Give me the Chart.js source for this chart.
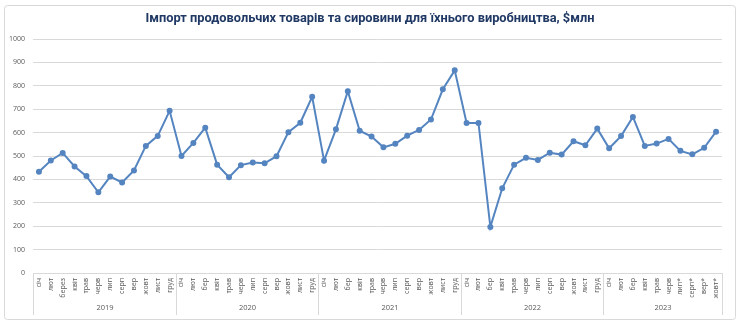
<!DOCTYPE html>
<html lang="uk">
<head>
<meta charset="utf-8">
<title>Імпорт продовольчих товарів</title>
<script src="https://cdn.jsdelivr.net/npm/chart.js@4.4.1/dist/chart.umd.min.js"></script>
<style>
  html, body { margin: 0; padding: 0; background: #fff; }
  #wrap { position: relative; width: 740px; height: 327px; }
</style>
</head>
<body>
<div id="wrap"><canvas id="chart"></canvas></div>
<script>
const chartTitle = 'Імпорт продовольчих товарів та сировини для їхнього виробництва, $млн';

const years = ['2019', '2020', '2021', '2022', '2023'];

const months2019 = ['січ', 'лют', 'берез', 'квіт', 'трав', 'черв', 'лип', 'серп', 'вер', 'жовт', 'лист', 'груд'];
const months2020 = ['січ', 'лют', 'бер', 'квіт', 'трав', 'черв', 'лип', 'серп', 'вер', 'жовт', 'лист', 'груд'];
const months2021 = ['січ', 'лют', 'бер', 'квіт', 'трав', 'черв', 'лип', 'серп', 'вер', 'жовт', 'лист', 'груд'];
const months2022 = ['січ', 'лют', 'бер', 'квіт', 'трав', 'черв', 'лип', 'серп', 'вер', 'жовт', 'лист', 'груд'];
const months2023 = ['січ', 'лют', 'бер', 'квіт', 'трав', 'черв', 'лип*', 'серп*', 'вер*', 'жовт*'];

const values2019 = [433, 481, 513, 455, 414, 345, 412, 387, 438, 543, 586, 693];
const values2020 = [500, 556, 621, 463, 409, 461, 472, 469, 499, 602, 642, 753];
const values2021 = [480, 614, 777, 608, 583, 537, 552, 587, 611, 656, 785, 866];
const values2022 = [641, 641, 197, 362, 463, 492, 483, 514, 506, 563, 546, 617];
const values2023 = [533, 585, 667, 543, 553, 573, 522, 507, 535, 604];

const yTicks = [0, 100, 200, 300, 400, 500, 600, 700, 800, 900, 1000];

const monthGroups = [months2019, months2020, months2021, months2022, months2023];
const labels = monthGroups.flat();
const values = [values2019, values2020, values2021, values2022, values2023].flat();

const tickFont = { family: 'Open Sans', size: 7 };
const tickColor = '#595959';
const lineColor = '#5585c0';

// white background, rounded frame and the title centred on the whole canvas
const framePlugin = {
  id: 'frame',
  beforeDraw(chart) {
    const { ctx, width, height } = chart;
    ctx.save();
    ctx.fillStyle = '#fff';
    ctx.fillRect(0, 0, width, height);
    ctx.strokeStyle = '#d9d9d9';
    ctx.lineWidth = 1;
    ctx.beginPath();
    ctx.roundRect(4.5, 5.5, width - 9, height - 13, 3);
    ctx.stroke();
    ctx.fillStyle = '#1f3864';
    ctx.font = 'bold 12.8px Roboto';
    ctx.textAlign = 'center';
    ctx.textBaseline = 'middle';
    ctx.fillText(chartTitle, width / 2, 19);
    ctx.restore();
  }
};

// second axis row: year names under their months, with dividers between years
const yearPlugin = {
  id: 'years',
  afterDraw(chart) {
    const { ctx } = chart;
    const x = chart.scales.x;
    const edge = (i) => {
      if (i <= 0) return x.left;
      if (i >= labels.length) return x.right;
      return (x.getPixelForValue(i - 1) + x.getPixelForValue(i)) / 2;
    };
    const top = x.top;
    const bottom = x.bottom - 12;
    ctx.save();
    ctx.strokeStyle = '#d9d9d9';
    ctx.lineWidth = 1;
    ctx.fillStyle = tickColor;
    ctx.font = `${tickFont.size + 0.5}px ${tickFont.family}`;
    ctx.textAlign = 'center';
    ctx.textBaseline = 'middle';
    let start = 0;
    monthGroups.forEach((group, g) => {
      const end = start + group.length;
      const left = Math.round(edge(start)) + 0.5;
      const right = Math.round(edge(end)) + 0.5;
      ctx.beginPath();
      ctx.moveTo(left, top);
      ctx.lineTo(left, bottom);
      ctx.moveTo(right, top);
      ctx.lineTo(right, bottom);
      ctx.stroke();
      ctx.fillText(years[g], (left + right) / 2, bottom - 7);
      start = end;
    });
    ctx.restore();
  }
};

new Chart(document.getElementById('chart'), {
  type: 'line',
  data: {
    labels,
    datasets: [{
      data: values,
      borderColor: lineColor,
      backgroundColor: lineColor,
      borderWidth: 2,
      pointRadius: 2,
      pointHoverRadius: 2.5,
      tension: 0
    }]
  },
  options: {
    responsive: true,
    maintainAspectRatio: false,
    animation: false,
    layout: { padding: { top: 39, right: 18, bottom: 0, left: 0 } },
    plugins: {
      legend: { display: false },
      tooltip: { enabled: false },
      title: { display: false }
    },
    scales: {
      x: {
        offset: true,
        grid: { display: false, drawTicks: false },
        border: { display: true, color: '#d9d9d9' },
        ticks: {
          autoSkip: false,
          maxRotation: 90,
          minRotation: 90,
          padding: 5,
          color: tickColor,
          font: tickFont
        },
        afterFit(scale) { scale.height = 54; }
      },
      y: {
        min: 0,
        max: 1000,
        afterBuildTicks(scale) { scale.ticks = yTicks.map((value) => ({ value })); },
        grid: { color: '#d9d9d9', drawTicks: false },
        border: { display: false },
        ticks: {
          padding: 8,
          color: tickColor,
          font: tickFont,
          callback: (value) => String(value)
        },
        afterFit(scale) { scale.width = 33; }
      }
    }
  },
  plugins: [framePlugin, yearPlugin]
});
</script>
</body>
</html>
